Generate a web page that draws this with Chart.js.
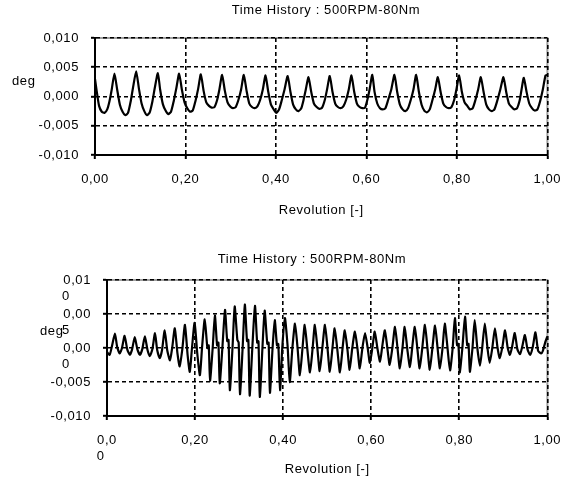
<!DOCTYPE html>
<html><head><meta charset="utf-8">
<script src="https://cdn.jsdelivr.net/npm/chart.js@4/dist/chart.umd.min.js"></script>
<style>
html,body{margin:0;padding:0;background:#fff;}
#w1{position:absolute;left:0;top:0;width:573px;height:240px;}
#w2{position:absolute;left:0;top:240px;width:573px;height:241px;}
</style></head><body>
<div id="w1"><canvas id="c1" width="573" height="240"></canvas></div>
<div id="w2"><canvas id="c2" width="573" height="241"></canvas></div>
<script>
const chartTitle = 'Time History : 500RPM-80Nm';
const xAxisTitle = 'Revolution [-]';
const yAxisTitle = 'deg';
const xTickValues = [0, 0.2, 0.4, 0.6, 0.8, 1];
const xTickLabelsTop = ['0,00', '0,20', '0,40', '0,60', '0,80', '1,00'];
const xTickLabelsBottom = [['0,0', '0   '], '0,20', '0,40', '0,60', '0,80', '1,00'];
const yTickValues = [-0.01, -0.005, 0, 0.005, 0.01];
const yTickLabelsTop = ['-0,010', '-0,005', '0,000', '0,005', '0,010'];
const yTickLabelsBottom = ['-0,010', '-0,005', ['', '0,00', '0     '], ['', '0,00', '5     '], ['', '0,01', '0     ']];

const topX = [0.000,0.004,0.009,0.015,0.021,0.027,0.032,0.037,0.043,
0.049,0.055,0.061,0.067,0.073,0.079,0.084,0.091,
0.097,0.103,0.109,0.115,0.121,0.127,0.132,0.139,
0.144,0.150,0.156,0.162,0.168,0.174,0.180,0.186,
0.192,0.198,0.204,0.210,0.216,0.222,0.228,0.234,
0.240,0.246,0.252,0.258,0.264,0.270,0.275,0.281,
0.287,0.293,0.299,0.305,0.311,0.317,0.323,0.329,
0.335,0.341,0.347,0.353,0.359,0.365,0.371,0.377,
0.383,0.389,0.395,0.401,0.407,0.413,0.419,0.426,
0.432,0.438,0.444,0.450,0.456,0.461,0.466,0.472,
0.478,0.484,0.490,0.496,0.502,0.508,0.513,0.519,
0.525,0.531,0.537,0.543,0.549,0.555,0.561,0.567,
0.573,0.579,0.585,0.591,0.597,0.602,0.607,0.613,
0.618,0.624,0.630,0.636,0.642,0.648,0.655,0.662,
0.668,0.674,0.680,0.686,0.692,0.698,0.704,0.710,
0.716,0.722,0.728,0.734,0.740,0.746,0.752,0.758,
0.764,0.770,0.776,0.782,0.788,0.794,0.799,0.805,
0.811,0.817,0.823,0.829,0.835,0.841,0.847,0.853,
0.859,0.865,0.871,0.877,0.883,0.889,0.896,0.903,
0.909,0.915,0.921,0.927,0.933,0.939,0.943,0.948,
0.954,0.960,0.966,0.972,0.978,0.984,0.990,0.996,
1.000];
const topY = [0.0030,0.0008,-0.0016,-0.0026,-0.0028,-0.0022,-0.0008,0.0012,0.0039,
0.0012,-0.0014,-0.0026,-0.0032,-0.0028,-0.0008,0.0015,0.0043,
0.0014,-0.0012,-0.0025,-0.0032,-0.0027,-0.0008,0.0014,0.0040,
0.0012,-0.0013,-0.0024,-0.0030,-0.0026,-0.0008,0.0015,0.0039,
0.0012,-0.0010,-0.0020,-0.0026,-0.0024,-0.0008,0.0013,0.0038,
0.0010,-0.0010,-0.0016,-0.0019,-0.0018,-0.0006,0.0012,0.0037,
0.0010,-0.0010,-0.0017,-0.0020,-0.0018,-0.0006,0.0012,0.0037,
0.0010,-0.0012,-0.0018,-0.0020,-0.0017,-0.0006,0.0012,0.0036,
0.0008,-0.0014,-0.0022,-0.0028,-0.0022,-0.0006,0.0012,0.0035,
0.0008,-0.0014,-0.0022,-0.0025,-0.0020,-0.0006,0.0012,0.0033,
0.0008,-0.0012,-0.0018,-0.0021,-0.0019,-0.0006,0.0012,0.0035,
0.0008,-0.0012,-0.0018,-0.0020,-0.0017,-0.0006,0.0012,0.0036,
0.0008,-0.0012,-0.0018,-0.0020,-0.0019,-0.0006,0.0012,0.0037,
0.0008,-0.0012,-0.0020,-0.0022,-0.0020,-0.0006,0.0012,0.0037,
0.0008,-0.0014,-0.0022,-0.0025,-0.0020,-0.0006,0.0012,0.0037,
0.0008,-0.0014,-0.0024,-0.0027,-0.0022,-0.0006,0.0012,0.0033,
0.0008,-0.0012,-0.0018,-0.0020,-0.0018,-0.0006,0.0012,0.0036,
0.0008,-0.0010,-0.0016,-0.0022,-0.0020,-0.0006,0.0012,0.0033,
0.0008,-0.0014,-0.0022,-0.0025,-0.0022,-0.0008,0.0012,0.0033,
0.0008,-0.0012,-0.0018,-0.0022,-0.0020,-0.0006,0.0012,0.0032,
0.0008,-0.0012,-0.0020,-0.0024,-0.0022,-0.0008,0.0012,0.0036,
0.0037];

const botX = [0.000,0.006,0.011,0.018,0.023,0.029,0.034,0.040,0.046,0.052,0.057,0.063,
0.069,0.075,0.080,0.086,0.092,0.097,0.103,0.109,0.114,0.120,0.125,0.131,
0.137,0.143,0.148,0.154,0.160,0.165,0.171,0.177,0.183,0.188,0.193,0.199,
0.205,0.211,0.216,0.222,0.228,0.231,0.234,0.240,0.245,0.250,0.253,0.256,0.262,0.268,
0.273,0.276,0.279,0.285,0.290,0.296,0.299,0.302,0.308,0.313,0.318,0.321,0.324,0.330,0.336,
0.341,0.344,0.347,0.353,0.358,0.364,0.367,0.370,0.376,0.381,0.386,0.389,0.393,0.398,0.404,
0.410,0.415,0.421,0.427,0.433,0.438,0.444,0.449,0.455,0.461,0.467,0.472,
0.478,0.483,0.489,0.495,0.501,0.506,0.512,0.517,0.523,0.529,0.535,0.540,
0.546,0.551,0.557,0.563,0.569,0.574,0.580,0.586,0.592,0.597,0.603,0.608,
0.614,0.620,0.625,0.631,0.637,0.642,0.648,0.654,0.660,0.665,0.671,0.676,
0.682,0.688,0.693,0.699,0.705,0.710,0.716,0.722,0.728,0.733,0.739,0.745,
0.751,0.756,0.762,0.767,0.773,0.779,0.785,0.790,0.795,0.798,0.801,0.807,0.813,
0.818,0.821,0.824,0.830,0.835,0.841,0.847,0.852,0.858,0.864,0.869,0.875,0.881,
0.887,0.892,0.898,0.904,0.910,0.915,0.920,0.926,0.932,0.938,0.943,0.949,
0.955,0.961,0.967,0.973,0.979,0.986,0.990,0.995,1.000];
const botY = [-0.0006,-0.0010,0.0002,0.0021,0.0002,-0.0008,0.0000,0.0018,-0.0002,-0.0010,-0.0002,0.0016,
-0.0002,-0.0010,-0.0002,0.0017,-0.0003,-0.0012,-0.0002,0.0022,-0.0003,-0.0015,-0.0003,0.0026,
-0.0004,-0.0018,0.0000,0.0029,-0.0008,-0.0027,-0.0002,0.0034,-0.0010,-0.0035,0.0000,0.0037,
-0.0008,-0.0040,0.0002,0.0042,0.0000,0.0004,-0.0048,0.0000,0.0048,0.0004,0.0008,-0.0052,0.0000,0.0056,
0.0010,0.0012,-0.0062,0.0000,0.0061,0.0012,0.0008,-0.0068,0.0000,0.0064,0.0010,0.0012,-0.0070,0.0000,0.0062,
0.0008,0.0010,-0.0072,0.0000,0.0055,0.0006,0.0008,-0.0066,0.0000,0.0041,0.0004,0.0006,-0.0062,0.0000,0.0044,
0.0004,-0.0050,0.0000,0.0036,-0.0002,-0.0040,0.0000,0.0034,-0.0002,-0.0036,0.0000,0.0034,
-0.0002,-0.0034,0.0000,0.0034,-0.0002,-0.0035,0.0000,0.0029,-0.0002,-0.0036,0.0000,0.0026,
-0.0002,-0.0032,0.0000,0.0024,-0.0002,-0.0030,0.0000,0.0022,0.0000,-0.0022,0.0002,0.0024,
0.0000,-0.0020,0.0002,0.0026,-0.0002,-0.0025,0.0000,0.0031,-0.0002,-0.0030,0.0000,0.0031,
-0.0002,-0.0028,0.0000,0.0031,-0.0002,-0.0030,0.0000,0.0034,-0.0002,-0.0032,0.0000,0.0033,
-0.0002,-0.0030,0.0000,0.0036,0.0002,-0.0033,0.0000,0.0044,0.0004,0.0006,-0.0036,0.0000,0.0046,
0.0004,0.0006,-0.0035,0.0000,0.0041,0.0000,-0.0026,0.0000,0.0036,0.0000,-0.0022,0.0000,0.0029,
0.0000,-0.0015,0.0002,0.0026,0.0000,-0.0010,0.0002,0.0022,-0.0002,-0.0009,0.0002,0.0019,
-0.0002,-0.0010,0.0002,0.0023,-0.0004,-0.0008,-0.0004,0.0008,0.0017];

const FONT = {family: '"Liberation Sans", Arial, sans-serif', size: 13};
const LETTER_SPACING = '0.6px';

const decor = {
  id: 'decor',
  beforeInit(chart) {
    chart.ctx.letterSpacing = LETTER_SPACING;
  },
  beforeDraw(chart) {
    const {ctx, chartArea: a} = chart;
    ctx.letterSpacing = LETTER_SPACING;
    ctx.save();
    ctx.fillStyle = '#fff';
    ctx.fillRect(0, 0, chart.width, chart.height);
    ctx.strokeStyle = '#a0a0a0';
    ctx.lineWidth = 2;
    ctx.beginPath();
    ctx.moveTo(a.left, a.top);
    ctx.lineTo(a.right, a.top);
    ctx.lineTo(a.right, a.bottom);
    ctx.stroke();
    ctx.restore();
  },
  afterDraw(chart, args, opts) {
    const {ctx, scales} = chart;
    ctx.save();
    ctx.fillStyle = '#000';
    ctx.font = FONT.size + 'px ' + FONT.family;
    ctx.textBaseline = 'middle';
    ctx.textAlign = 'center';
    ctx.fillText(chartTitle, opts.titleX, opts.titleY);
    ctx.textAlign = 'left';
    ctx.fillText(yAxisTitle, opts.unitX, scales.y.getPixelForValue(opts.unitValue));
    ctx.restore();
  }
};

function makeChart(id, xs, ys, xLabels, yLabels, cfg) {
  const points = xs.map((x, i) => ({x: x, y: ys[i]}));
  return new Chart(document.getElementById(id), {
    type: 'line',
    data: {datasets: [{data: points, borderColor: '#000', borderWidth: 2.2, pointRadius: 0, tension: 0.2, fill: false}]},
    options: {
      responsive: false,
      animation: false,
      layout: {padding: cfg.padding},
      plugins: {legend: {display: false}, tooltip: {enabled: false}, title: {display: false},
        decor: {titleX: cfg.titleX, titleY: cfg.titleY, unitX: cfg.unitX, unitValue: 0.0025}},
      scales: {
        x: {
          type: 'linear', min: 0, max: 1,
          afterBuildTicks: s => { s.ticks = xTickValues.map(v => ({value: v})); },
          afterFit: s => { s.height = cfg.xH; },
          ticks: {callback: (v, i) => xLabels[i], font: FONT, color: '#000', padding: 13, maxRotation: 0, autoSkip: false},
          grid: {color: '#000', lineWidth: 1.6, tickLength: 4, tickWidth: 2, tickColor: '#000'},
          border: {display: true, color: '#000', width: 2, dash: [4, 3]},
          title: {display: true, text: xAxisTitle, font: FONT, color: '#000', padding: {top: 4, bottom: 4}}
        },
        y: {
          type: 'linear', min: -0.01, max: 0.01,
          afterBuildTicks: s => { s.ticks = yTickValues.map(v => ({value: v})); },
          afterFit: s => { s.width = cfg.yW; },
          ticks: {callback: (v, i) => yLabels[i], font: Object.assign({lineHeight: 1.27}, FONT), color: '#000', padding: 12, autoSkip: false},
          grid: {color: '#000', lineWidth: 1.6, tickLength: 4, tickWidth: 2, tickColor: '#000'},
          border: {display: true, color: '#000', width: 2, dash: [4, 3]}
        }
      }
    },
    plugins: [decor]
  });
}

makeChart('c1', topX, topY, xTickLabelsTop, yTickLabelsTop,
  {padding: {top: 38, right: 16, left: 0, bottom: 18}, xH: 67, yW: 95, titleX: 326, titleY: 10, unitX: 12});
makeChart('c2', botX, botY, xTickLabelsBottom, yTickLabelsBottom,
  {padding: {top: 40, right: 15, left: 0, bottom: 0}, xH: 65, yW: 107, titleX: 312, titleY: 19, unitX: 40});
</script>
</body></html>
